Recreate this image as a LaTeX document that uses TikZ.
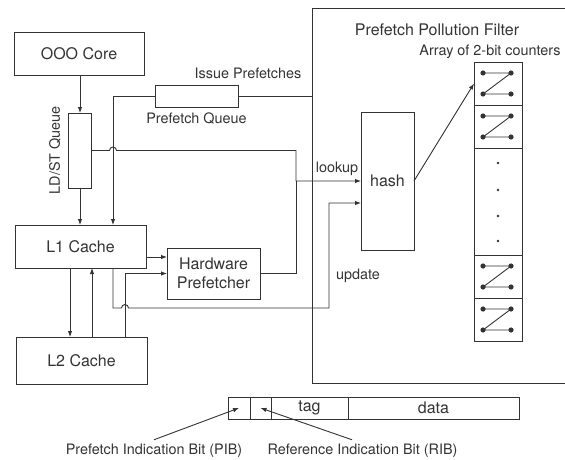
\documentclass[tikz,border=0pt]{standalone}
\usepackage{fontspec}
\setmainfont{TeX Gyre Heros}
\usetikzlibrary{arrows.meta,positioning,calc}

\tikzset{
  box/.style={draw,inner sep=0pt,outer sep=0pt,font=\fontsize{16}{19}\selectfont},
  cell/.style={box,minimum width=48,minimum height=43},
  field/.style={box,minimum height=22},
  lbl/.style={inner sep=0pt,font=\fontsize{14.4}{17}\selectfont},
}

\begin{document}
\begin{tikzpicture}[x=1pt,y=-1pt,line width=0.9pt,color=black!80,
  >={Latex[length=6pt,width=4.5pt]}]
\useasboundingbox (0,0) rectangle (565,460);
\clip (0,0) rectangle (565,460);

% left side
\node[box,minimum width=130,minimum height=43] (core) at (79,53.5) {OOO Core};
\node[box,minimum width=23,minimum height=75] (ldst) at (80,150.5) {};
\node[lbl,rotate=90] (ldstlbl) at (55,150.5) {LD/ST Queue};
\node[box,minimum width=83,minimum height=22] (pq) at (196.5,96) {};
\node[lbl,below=5pt of pq] (pqlbl) {Prefetch Queue};
\node[lbl] (issue) at (248,73) {Issue Prefetches};
\node[box,minimum width=131,minimum height=43] (l1) at (80.5,246.5) {L1 Cache};
\node[box,minimum width=93,minimum height=51,align=center] (hw) at (213.5,273.5) {Hardware\\Prefetcher};
\node[box,minimum width=131,minimum height=47] (l2) at (81.5,360.5) {L2 Cache};

% filter
\node[box,minimum width=308,minimum height=375] (ppf) at (466,195.5) {};
\node[lbl,font=\fontsize{16}{19}\selectfont] (ppflbl) at (437,30) {Prefetch Pollution Filter};
\node[box,minimum width=53,minimum height=138] (hash) at (387.5,181) {hash};
\node[lbl] (arrlbl) at (490,52) {Array of 2-bit counters};
\node[cell] (cA) at (498,83.5) {};
\node[cell] (cB) at (498,126.5) {};
\node[cell,minimum height=107] (cC) at (498,201.5) {};
\node[cell] (cD) at (498,276.5) {};
\node[cell] (cE) at (498,319.5) {};
\foreach \c in {cA,cB,cD,cE}{
  \coordinate (\c-tl) at ($(\c)+(-15,-10.5)$);
  \coordinate (\c-tr) at ($(\c)+(13,-10.5)$);
  \coordinate (\c-bl) at ($(\c)+(-15,10.5)$);
  \coordinate (\c-br) at ($(\c)+(13,10.5)$);
  \draw (\c-tl) -- (\c-tr) (\c-bl) -- (\c-br) (\c-bl) -- (\c-tr);
  \foreach \p in {tl,tr,bl,br} \fill (\c-\p) circle (2.6pt);
}
\foreach \y in {-38.5,-11.5,14.5,39.5} \fill ($(cC)+(0,\y)$) circle (1.4pt);
\node[lbl] (lookup) at (337,169) {lookup};
\node[lbl] (update) at (358,276) {update};

% connectors
\coordinate (lk) at ($(hash.west)+(-65,0)$);
\coordinate (up) at ($(hash.west)+(-32,22)$);
\draw[->] (ldst.north |- core.south) -- (ldst.north);
\draw[->] (ldst.south) -- (ldst.south |- l1.north);
\draw[->] (pq.west) -| ([xshift=32.5pt]l1.north);
\draw (pq.east) -- (pq.east -| ppf.west);
\draw[->] (ldst.east) -- ++(18,0) arc[start angle=180,end angle=0,radius=3.5pt] -| (lk) -- (hash.west);
\draw (hw.east) -| (lk);
\draw[->] ([yshift=-10.5pt]l1.east) -- ([yshift=-10.5pt]l1.east -| hw.west);
\draw[->] ([xshift=43.5pt]l2.north) |- (hw.west);
\draw[->] ([xshift=32.5pt]l1.south) -- ++(0,40) -- ++(8.5,0)
  arc[start angle=180,end angle=0,radius=3.5pt] -| (up) -- (up -| hash.west);
\draw[->] ([xshift=-10.5pt]l1.south) -- ([xshift=-10.5pt]l1.south |- l2.north);
\draw[->] ([xshift=10.5pt]l2.north) -- ([xshift=10.5pt]l2.north |- l1.south);
\draw[->] (hash.east) -- (cA.west);

% cache line format
\node[field,minimum width=22] (pib) at (239,408) {};
\node[field,minimum width=21,right=0pt of pib] (rib) {};
\node[field,minimum width=77,right=0pt of rib] (tag) {tag};
\node[field,minimum width=171,right=0pt of tag] (data) {data};
\node[lbl] (pibtxt) at (154,451) {Prefetch Indication Bit (PIB)};
\node[lbl] (ribtxt) at (362.5,451) {Reference Indication Bit (RIB)};
\draw[->] ([yshift=4pt]pibtxt.north) -- (pib.center);
\draw[->] ([xshift=-10.5pt,yshift=4pt]ribtxt.north) -- (rib.center);
\end{tikzpicture}
\end{document}
